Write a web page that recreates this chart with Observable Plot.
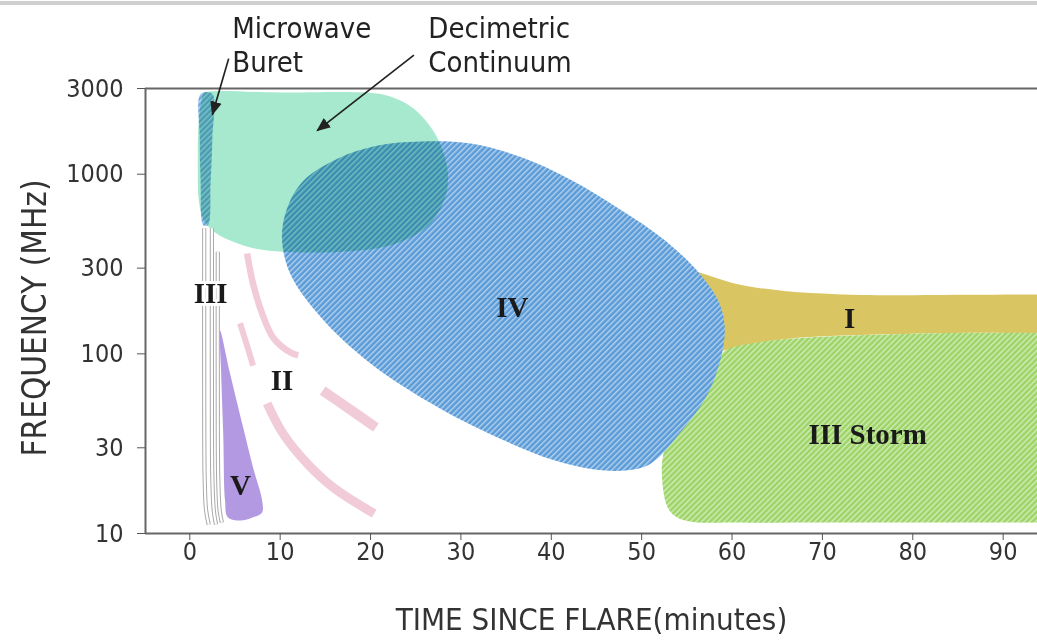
<!DOCTYPE html>
<html>
<head>
<meta charset="utf-8">
<script src="https://cdn.jsdelivr.net/npm/d3@7"></script>
<script src="https://cdn.jsdelivr.net/npm/@observablehq/plot@0.6"></script>
<style>
  body { margin: 0; background: #fff; }
  #wrap { width: 1037px; height: 642px; overflow: hidden; position: relative; background: #fff; }
  #topline { height: 4px; background: #cfcfcf; margin-top: 1px; }
</style>
</head>
<body>
<div id="wrap"><div id="topline"></div><div id="chart"></div></div>
<script>
// ---- axis ticks ----
const xTicks = [0, 10, 20, 30, 40, 50, 60, 70, 80, 90];
const yTicks = [10, 30, 100, 300, 1000, 3000];
const xTitle = "TIME SINCE FLARE(minutes)";
const yTitle = "FREQUENCY (MHz)";

// ---- burst regions: [minutes, MHz] ----
const decimetricContinuum = [
  [1.67, 2850], [10, 2850], [19.5, 2850], [21.7, 2750], [23.9, 2480], [25.6, 2125],
  [26.9, 1754], [27.9, 1393], [28.5, 1077], [28.5, 833], [27.9, 670], [26.7, 539],
  [24.7, 451], [21.7, 396], [17.8, 372], [12.2, 367], [7.8, 381], [5.0, 417],
  [2.8, 474], [1.56, 553], [1.0, 715], [0.89, 1050], [1.0, 1995], [1.45, 2750]
];
const microwaveBurst = [
  [1.2, 2800], [2.5, 2800], [2.5, 1600], [2.3, 900], [2.0, 520], [1.5, 520], [1.2, 900], [1.1, 1600]
];
const typeIV = [
  [10.2, 445], [10.8, 653], [12.6, 923], [16.4, 1224], [20.8, 1445], [25.6, 1523],
  [31.1, 1484], [36.7, 1241], [42.3, 923], [47.8, 629], [52.6, 428], [56.4, 280],
  [58.6, 191], [59.2, 135], [58.6, 88.5], [57.1, 57.2], [54.2, 36.1], [51.5, 25.5],
  [49.7, 23.0], [45.9, 22.4], [40.4, 25.5], [34.8, 32.9], [27.5, 50.3], [20.0, 88.5],
  [14.5, 160], [11.1, 280]
];
const typeI = [
  [54.5, 300], [56.4, 284], [60.4, 246], [66, 223], [71.5, 215], [79, 212], [86.4, 213],
  [93, 214], [97, 214], [101, 214], [104, 180], [101, 130], [97, 130], [93, 130],
  [86.4, 131], [79, 129], [71.5, 126], [66, 121], [62, 113], [59, 104], [55, 95]
];
const typeIIIStorm = [
  [52.6, 30], [52.3, 19], [53.1, 13.4], [54.8, 11.8], [60.4, 11.5], [70, 11.5], [80, 11.5],
  [90, 11.5], [97, 11.5], [101, 11.5], [104, 40], [101, 131], [97, 131], [93, 131],
  [86, 131], [79, 129], [68, 123], [63, 116], [59, 102], [56.5, 60]
];
const typeV = [
  [3.35, 135], [4.45, 78], [5.9, 39], [7.0, 23.3], [8.0, 15.3], [8.0, 13.1], [7.0, 12.3],
  [5.6, 11.8], [4.2, 12.3], [3.9, 15.3], [3.7, 36], [3.45, 84]
];
// type II: two dashed drifting lanes
const typeII_A = [[6.34, 362], [7.0, 246], [8.0, 168], [9.23, 123], [11.1, 102], [12.0, 98]];
const typeII_B = [[5.56, 148], [6.34, 111], [7.0, 86]];
const typeII_C = [[14.7, 62.5], [17.6, 49.6], [20.6, 38.9]];
const typeII_D = [[8.56, 53], [10.3, 36.1], [13.0, 24.5], [15.9, 18.0], [20.4, 12.9]];
// type III: three fast-drift bursts
const typeIII_1 = [[1.6, 500], [1.6, 40], [1.65, 20], [1.8, 13.5], [2.1, 11.2]];
const typeIII_2 = [[2.45, 500], [2.45, 40], [2.5, 20], [2.65, 13.5], [2.9, 11.2]];
const typeIII_3 = [[3.1, 370], [3.1, 40], [3.15, 20], [3.3, 13.5], [3.55, 11.5]];

// ---- labels ----
const regionLabels = [
  {text: "III", t: 2.3, f: 217},
  {text: "II", t: 10.2, f: 71},
  {text: "V", t: 5.6, f: 18.5},
  {text: "IV", t: 35.7, f: 181},
  {text: "I", t: 73.0, f: 157},
  {text: "III Storm", t: 75.0, f: 35.6}
];
const annotations = [
  {text: "Microwave\nBuret", t: 4.7, f: 7900},
  {text: "Decimetric\nContinuum", t: 26.4, f: 7900}
];
const arrows = [
  {t1: 4.3, f1: 4400, t2: 2.5, f2: 2150},
  {t1: 24.8, f1: 4600, t2: 14.1, f2: 1750}
];

const SANS = "'Liberation Sans Narrow', 'Arial Narrow', 'DejaVu Sans Condensed', 'Liberation Sans', sans-serif";
const SERIF = "'Liberation Serif', 'DejaVu Serif', serif";

const P = pts => pts.map(([t, f]) => ({t, f}));
const shape = (pts, opts) => Plot.line(P(pts), {x: "t", y: "f", curve: "catmull-rom-closed", stroke: "none", clip: true, ...opts});
const lane = (pts, opts) => Plot.line(P(pts), {x: "t", y: "f", curve: "catmull-rom", fill: "none", strokeLinecap: "butt", clip: true, ...opts});

const pink = "#f2cbd9";

const svg = Plot.plot({
  width: 1037,
  height: 637,
  marginTop: 83,
  marginBottom: 109,
  marginLeft: 145,
  marginRight: 0,
  style: {fontFamily: SANS, color: "#333", background: "#fff", overflow: "visible"},
  x: {domain: [-4.9, 93.8]},
  y: {type: "log", domain: [10, 3000]},
  marks: [
    shape(typeI, {fill: "#d9c662"}),
    shape(typeIIIStorm, {fill: "url(#hatchGreen)"}),
    shape(typeIV, {fill: "url(#hatchBlue)"}),
    shape(decimetricContinuum, {fill: "#a6e9cf", mixBlendMode: "multiply"}),
    shape(microwaveBurst, {fill: "url(#hatchBlue)", mixBlendMode: "multiply", fillOpacity: 0.85}),
    // type III bursts (outlined strips)
    lane(typeIII_1, {stroke: "#a9a9a9", strokeWidth: 4.2}),
    lane(typeIII_1, {stroke: "#fff", strokeWidth: 2.2}),
    lane(typeIII_2, {stroke: "#a9a9a9", strokeWidth: 4.2}),
    lane(typeIII_2, {stroke: "#fff", strokeWidth: 2.2}),
    lane(typeIII_3, {stroke: "#a9a9a9", strokeWidth: 4.2}),
    lane(typeIII_3, {stroke: "#fff", strokeWidth: 2.2}),
    shape(typeV, {fill: "#b399e2"}),
    lane(typeII_A, {stroke: pink, strokeWidth: 6.5}),
    lane(typeII_B, {stroke: pink, strokeWidth: 6}),
    lane(typeII_C, {stroke: pink, strokeWidth: 10}),
    lane(typeII_D, {stroke: pink, strokeWidth: 9}),
    // frame (top, bottom, left)
    Plot.ruleY([yTicks[0], yTicks[yTicks.length - 1]], {stroke: "#666", strokeWidth: 2}),
    Plot.ruleX([-4.9], {stroke: "#666", strokeWidth: 2}),
    // region labels
    Plot.text(regionLabels, {x: "t", y: "f", text: "text", fontFamily: SERIF, fontWeight: "bold",
      fontSize: 29, fill: "#1a1a1a", stroke: d => d.text === "III" ? "#fff" : "none", strokeWidth: 6}),
    // annotations
    Plot.text(annotations, {x: "t", y: "f", text: "text", textAnchor: "start", lineAnchor: "top",
      fontSize: 29, lineHeight: 1.2, fill: "#222", fontFamily: SANS}),
    Plot.link(arrows, {x1: "t1", y1: "f1", x2: "t2", y2: "f2", stroke: "#222", strokeWidth: 1.7}),
    // axes
    Plot.axisX(xTicks, {tickSize: 7, tickPadding: 2, fontSize: 25, label: null, stroke: "#555", fill: "#333"}),
    Plot.axisY(yTicks, {tickSize: 8, tickPadding: 14, fontSize: 25, label: null, tickFormat: d3.format("d"), stroke: "#555", fill: "#333"}),
    Plot.text([xTitle], {frameAnchor: "bottom", lineAnchor: "middle", dy: 87, fontSize: 31, fill: "#333"}),
    Plot.text([yTitle], {frameAnchor: "left", textAnchor: "middle", lineAnchor: "middle", dx: -110, dy: 7, rotate: -90, fontSize: 33, fill: "#333"})
  ]
});

// pattern defs, blend modes and solid arrowheads
const s = d3.select(svg);
const defs = s.insert("defs", ":first-child");
function hatch(id, base, stripe, op) {
  const p = defs.append("pattern").attr("id", id).attr("patternUnits", "userSpaceOnUse")
    .attr("width", 4).attr("height", 4).attr("patternTransform", "rotate(45)");
  p.append("rect").attr("width", 4).attr("height", 4).attr("fill", base);
  p.append("rect").attr("width", 1.4).attr("height", 4).attr("fill", stripe).attr("fill-opacity", op);
}
hatch("hatchBlue", "#5a9bd8", "#ffffff", 0.55);
hatch("hatchGreen", "#9dd466", "#ffffff", 0.55);
const lineGroups = s.selectAll('g[aria-label="line"]').nodes();
[3, 4].forEach(i => { if (lineGroups[i]) lineGroups[i].style.mixBlendMode = "multiply"; });
defs.append("marker").attr("id", "arrowHead").attr("markerUnits", "userSpaceOnUse")
  .attr("viewBox", "0 0 12 12").attr("refX", 11).attr("refY", 6)
  .attr("markerWidth", 14).attr("markerHeight", 14).attr("orient", "auto")
  .append("path").attr("d", "M0,1 L12,6 L0,11 Z").attr("fill", "#222");
s.selectAll('g[aria-label="link"] path').attr("marker-end", "url(#arrowHead)");

document.getElementById("chart").appendChild(svg);
</script>
</body>
</html>
